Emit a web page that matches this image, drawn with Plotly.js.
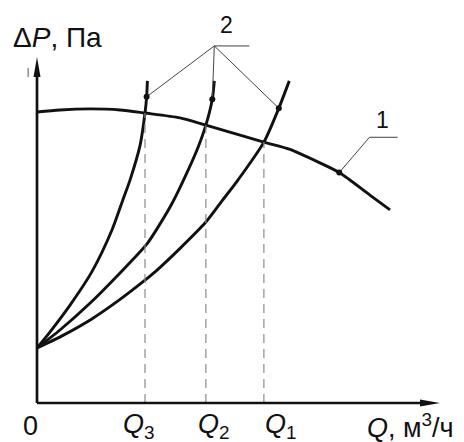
<!DOCTYPE html>
<html>
<head>
<meta charset="utf-8">
<script src="https://cdn.plot.ly/plotly-3.0.1.min.js"></script>
<style>html,body{margin:0;padding:0;background:#fff;}#chart{width:464px;height:442px;}</style>
</head>
<body>
<div id="chart"></div>
<script>
// Pump characteristic (curve 1)
const pumpQ = [0, 0.57, 1.32, 2.06, 2.68, 3.55, 4.19, 5.63, 6.28, 7.02, 7.50, 8.26, 8.76];
const pumpP = [8.41, 8.47, 8.50, 8.47, 8.38, 8.24, 8.03, 7.54, 7.33, 6.94, 6.66, 6.01, 5.58];

// Network characteristics (curves 2), steepest -> flattest
const net3Q = [0, 0.32, 0.82, 1.36, 1.86, 2.13, 2.31, 2.56, 2.68, 2.72, 2.74];
const net3P = [1.59, 2.05, 2.83, 3.79, 5.00, 5.87, 6.45, 7.46, 8.38, 8.85, 9.31];
const net2Q = [0, 0.57, 1.32, 2.06, 2.73, 3.05, 3.37, 3.75, 4.00, 4.19, 4.35, 4.40];
const net2P = [1.59, 2.11, 2.89, 3.76, 4.60, 5.17, 5.81, 6.73, 7.40, 8.03, 8.78, 9.31];
const net1Q = [0, 0.62, 1.36, 2.01, 2.68, 2.93, 3.55, 4.19, 4.59, 4.99, 5.63, 6.00, 6.26];
const net1P = [1.59, 1.94, 2.43, 2.95, 3.55, 3.79, 4.47, 5.23, 5.84, 6.45, 7.54, 8.52, 9.31];

// Operating points Q3, Q2, Q1
const opLabels = ['Q<sub>3</sub>', 'Q<sub>2</sub>', 'Q<sub>1</sub>'];
const opQ = [2.68, 4.19, 5.63];
const opP = [8.38, 8.03, 7.54];

// axis extents
const axisMax = [10, 10];

const FONT = 'Liberation Sans, Arial, sans-serif';
const traces = [];
const curveLine = {color: '#111', width: 2.9, shape: 'spline', smoothing: 0.7};
[[pumpQ, pumpP], [net3Q, net3P], [net2Q, net2P], [net1Q, net1P]].forEach(([q, p]) => {
  traces.push({x: q, y: p, mode: 'lines', line: curveLine, hoverinfo: 'skip'});
});
// dashed drop lines
opQ.forEach((q, i) => {
  traces.push({x: [q, q], y: [0, opP[i]], mode: 'lines',
    line: {color: '#8c8c8c', width: 1.2, dash: '9px,6px'}, hoverinfo: 'skip'});
});

// leader lines for label "2"
const junction2 = [4.40, 10.32];
const dots2 = [[net3Q[9], net3P[9]], [net2Q[10], net2P[10]], [net1Q[11], net1P[11]]];
dots2.forEach(d => {
  traces.push({x: [junction2[0], d[0]], y: [junction2[1], d[1]], mode: 'lines',
    line: {color: '#444', width: 1}, hoverinfo: 'skip'});
});
traces.push({x: [junction2[0], 5.27], y: [junction2[1], junction2[1]], mode: 'lines',
  line: {color: '#444', width: 1}, hoverinfo: 'skip'});
// leader line for label "1"
const dot1 = [pumpQ[10], pumpP[10]];
traces.push({x: [dot1[0], 8.25, 8.95], y: [dot1[1], 7.68, 7.68], mode: 'lines',
  line: {color: '#444', width: 1}, hoverinfo: 'skip'});
// dots
traces.push({x: dots2.map(d => d[0]).concat([dot1[0]]), y: dots2.map(d => d[1]).concat([dot1[1]]),
  mode: 'markers', marker: {color: '#111', size: 6}, hoverinfo: 'skip'});

const shapes = [
  {type: 'line', xref: 'x', yref: 'y', x0: 0, y0: 0, x1: axisMax[0] - 0.35, y1: 0, line: {color: '#111', width: 2.7}},
  {type: 'line', xref: 'x', yref: 'y', x0: 0, y0: 0, x1: 0, y1: axisMax[1] - 0.4, line: {color: '#111', width: 2.7}},
  {type: 'path', xref: 'x', yref: 'y', xsizemode: 'pixel', ysizemode: 'pixel', xanchor: axisMax[0], yanchor: 0,
    path: 'M0,0 L-20,3.5 L-20,-3.5 Z', fillcolor: '#111', line: {width: 0}},
  {type: 'path', xref: 'x', yref: 'y', xsizemode: 'pixel', ysizemode: 'pixel', xanchor: 0, yanchor: axisMax[1],
    path: 'M0,0 L-3.5,-20 L3.5,-20 Z', fillcolor: '#111', line: {width: 0}},
  {type: 'line', xref: 'x', yref: 'y', x0: -0.22, y0: 9.68, x1: -0.22, y1: 9.42, line: {color: '#555', width: 1}}
];

const annFont = {family: FONT, size: 27, color: '#111'};
const rowY = -0.66;
const annotations = [
  {x: 0.51, y: 10.55, xref: 'x', yref: 'y', text: 'Δ<i>P</i>, Па', showarrow: false, font: {family: FONT, size: 28, color: '#111'}},
  {x: -0.17, y: rowY, xref: 'x', yref: 'y', text: '0', showarrow: false, font: annFont},
  {x: 9.27, y: rowY, xref: 'x', yref: 'y', text: '<i>Q</i>, м<sup>3</sup>/ч', showarrow: false, font: annFont},
  {x: 4.69, y: 10.92, xref: 'x', yref: 'y', text: '2', showarrow: false, font: {family: FONT, size: 23, color: '#111'}},
  {x: 8.57, y: 8.19, xref: 'x', yref: 'y', text: '1', showarrow: false, font: {family: FONT, size: 23, color: '#111'}}
];
const labelShift = [-0.15, 0.21, 0.42];
opQ.forEach((q, i) => {
  annotations.push({x: q + labelShift[i], y: rowY, xref: 'x', yref: 'y',
    text: opLabels[i].replace('Q', '<i>Q</i>'), showarrow: false, font: annFont});
});

const layout = {
  width: 464, height: 442,
  margin: {l: 0, r: 0, t: 0, b: 0},
  paper_bgcolor: '#fff', plot_bgcolor: '#fff',
  showlegend: false,
  xaxis: {range: [-37 / 40.3, 427 / 40.3], visible: false, fixedrange: true},
  yaxis: {range: [-39 / 34.6, 403 / 34.6], visible: false, fixedrange: true},
  shapes: shapes,
  annotations: annotations
};
Plotly.newPlot('chart', traces, layout, {staticPlot: true, displayModeBar: false});
</script>
</body>
</html>
